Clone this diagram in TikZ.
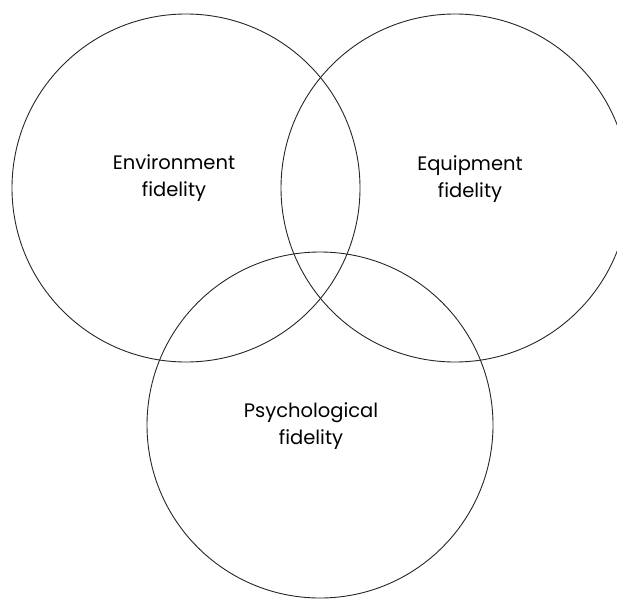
\documentclass[tikz,border=0pt]{standalone}
\usepackage{fontspec}
\setmainfont{Poppins}
\begin{document}
\begin{tikzpicture}[x=1pt,y=-1pt,
  ring/.style={draw=black!85,line width=0.9pt},
  lbl/.style={align=center,font=\fontsize{19.5}{27}\selectfont,inner sep=0pt}]
\useasboundingbox (0,0) rectangle (617,599);
\begin{scope}
\clip (0,0) rectangle (617,599);
\draw[ring] (186,188) circle (174);
\draw[ring] (455,188) circle (174);
\draw[ring] (320,425) circle (173);
\end{scope}
\node[lbl] (env) at (174,178) {Environment\\fidelity};
\node[lbl] (equ) at (470,179) {Equipment\\fidelity};
\node[lbl] (psy) at (311,426) {Psychological\\fidelity};
\end{tikzpicture}
\end{document}
